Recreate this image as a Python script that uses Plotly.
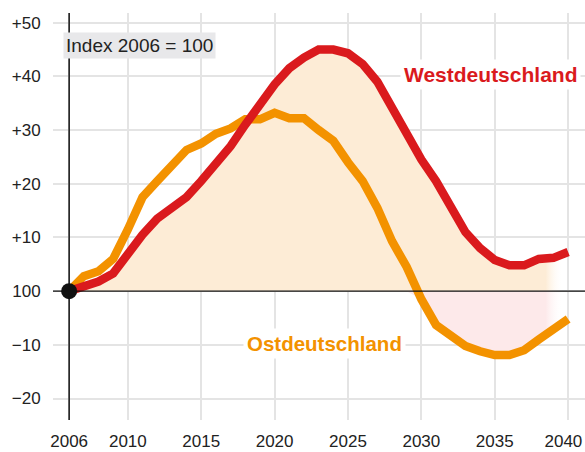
import plotly.graph_objects as go

years = list(range(2006, 2041))
west = [0, 1, 1.8, 3.3, 7, 10.5, 13.5, 15.5, 17.5, 20.5, 23.5, 27, 31, 35, 38.5,
        41.5, 43.5, 45, 45, 44.3, 42.3, 39, 34, 29, 24.5, 20.5, 15.5, 11, 8, 5.8,
        4.8, 4.8, 6, 6.2, 7.3]
ost = [0, 2.8, 3.7, 6, 11.5, 17.5, 20.5, 23.5, 26.3, 27.5, 29.3, 30.3, 32, 32, 33.2,
       32.2, 32.2, 30, 28, 24, 20.5, 15.5, 9.3, 4.5, -1.5, -6.3, -8.5, -10.2, -11.2, -11.9,
       -11.9, -11, -9, -7, -5.2]
xticks = [2006, 2010, 2015, 2020, 2025, 2030, 2035, 2040]
xlabels = ["2006", "2010", "2015", "2020", "2025", "2030", "2035", "2040\u2007"]
yticks = [-20, -10, 0, 10, 20, 30, 40, 50]
ylabels = ["\u221220", "\u221210", "100", "+10", "+20", "+30", "+40", "+50"]

RED = "#da1a1d"
ORANGE = "#f39200"
PEACH = "rgb(253,236,214)"
PINK = "rgb(253,233,234)"
FADE = "rgba(255,255,255,0)"
FONT = "Liberation Sans"

fig = go.Figure()
west_pos = [max(v, 0) for v in west]
ost_neg = [min(v, 0) for v in ost]
fig.add_trace(go.Scatter(
    x=years, y=west_pos, mode="lines", line=dict(width=0), fill="tozeroy",
    fillgradient=dict(type="horizontal",
                      colorscale=[[0, PEACH], [0.955, PEACH], [0.99, FADE], [1, FADE]]),
    hoverinfo="skip", showlegend=False))
fig.add_trace(go.Scatter(
    x=years, y=ost_neg, mode="lines", line=dict(width=0), fill="tozeroy",
    fillgradient=dict(type="horizontal",
                      colorscale=[[0, PINK], [0.955, PINK], [0.99, FADE], [1, FADE]]),
    hoverinfo="skip", showlegend=False))
fig.add_trace(go.Scatter(x=years, y=ost, mode="lines",
                         line=dict(color=ORANGE, width=8.5), showlegend=False))
fig.add_trace(go.Scatter(x=years, y=west, mode="lines",
                         line=dict(color=RED, width=8.5), showlegend=False))
fig.add_trace(go.Scatter(x=[years[0]], y=[west[0]], mode="markers",
                         marker=dict(color="#111", size=16), showlegend=False))

fig.add_shape(type="line", xref="paper", yref="y", x0=0, x1=1, y0=0, y1=0,
              line=dict(color="#111", width=1.3), layer="above")
fig.add_shape(type="line", xref="x", yref="paper", x0=2006, x1=2006, y0=0, y1=1,
              line=dict(color="#111", width=1.5), layer="above")

fig.add_annotation(x=2034.7, y=40.4, text="<b>Westdeutschland</b>", showarrow=False,
                   font=dict(family=FONT, size=21, color=RED), bgcolor="white",
                   borderpad=3)
fig.add_annotation(x=2023.4, y=-9.7, text="<b>Ostdeutschland</b>", showarrow=False,
                   font=dict(family=FONT, size=20.5, color=ORANGE), bgcolor="white",
                   borderpad=3)
fig.add_annotation(x=2010.8, y=45.7, text="Index 2006 = 100", showarrow=False,
                   font=dict(family=FONT, size=19, color="#222"), bgcolor="#e8e8ea",
                   borderpad=2)

fig.update_layout(
    width=585, height=452,
    margin=dict(l=53, r=0, t=13, b=32),
    plot_bgcolor="white", paper_bgcolor="white",
    font=dict(family=FONT, size=17, color="#222"),
    xaxis=dict(range=[2004.9, 2041.15], tickvals=xticks, ticktext=xlabels,
               showgrid=True, gridcolor="#e4e4e4", gridwidth=1.5, zeroline=False,
               ticks="outside", ticklen=6, tickcolor="rgba(0,0,0,0)", showline=False,
               automargin=False, ticklabeloverflow="allow"),
    yaxis=dict(range=[-24.0, 51.8], tickvals=yticks, ticktext=ylabels,
               showgrid=True, gridcolor="#e4e4e4", gridwidth=1.5, zeroline=False,
               ticks="outside", ticklen=8, tickcolor="rgba(0,0,0,0)", showline=False,
               automargin=False),
)
fig.write_html("out.html", config={"displayModeBar": False},
               post_script="document.body.style.margin='0';document.body.style.padding='0';"
                           "document.body.style.overflow='hidden';")
